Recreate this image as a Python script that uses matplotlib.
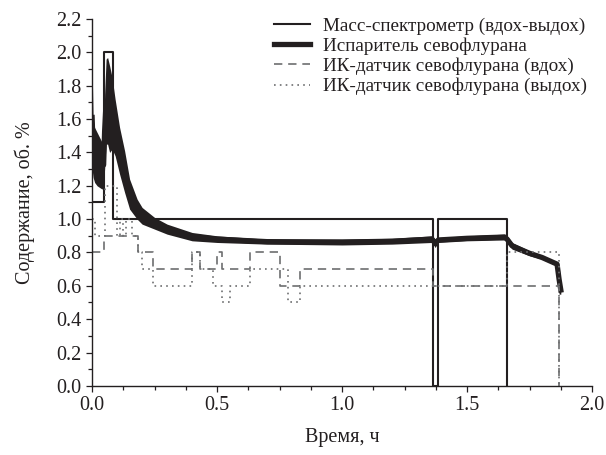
import matplotlib
matplotlib.use("Agg")
import matplotlib.pyplot as plt
from matplotlib.ticker import MultipleLocator, FormatStrFormatter

plt.rcParams['font.family'] = ['Liberation Serif', 'DejaVu Serif']

# Масс-спектрометр (ступенчатая)
ms_x = [0.0, 0.048, 0.085, 1.364, 1.384, 1.66]
ms_y = [1.1, 2.0, 1.0, 0.0, 1.0, 0.0]

# Испаритель: середина полосы и её границы
vap_x = [0.0, 0.004, 0.010, 0.020, 0.030, 0.040, 0.046, 0.050, 0.056, 0.062,
         0.070, 0.080, 0.092, 0.110, 0.130, 0.150, 0.180, 0.200, 0.250, 0.300,
         0.400, 0.500, 0.700, 1.000, 1.200, 1.360, 1.372, 1.385, 1.500, 1.650,
         1.660, 1.680, 1.750, 1.800, 1.860, 1.868, 1.875]
vap_lo = [1.30, 1.25, 1.22, 1.20, 1.19, 1.18, 1.20, 1.30, 1.45, 1.45,
          1.40, 1.42, 1.38, 1.27, 1.16, 1.06, 1.00, 0.97, 0.94, 0.91,
          0.87, 0.86, 0.85, 0.845, 0.85, 0.86, 0.83, 0.86, 0.87, 0.875,
          0.86, 0.82, 0.78, 0.76, 0.72, 0.55, 0.55]
vap_hi = [1.92, 1.60, 1.55, 1.52, 1.49, 1.46, 1.45, 1.75, 1.96, 1.97,
          1.92, 1.85, 1.72, 1.55, 1.41, 1.24, 1.12, 1.07, 1.01, 0.97,
          0.92, 0.90, 0.88, 0.88, 0.885, 0.90, 0.88, 0.89, 0.90, 0.91,
          0.90, 0.86, 0.81, 0.78, 0.74, 0.73, 0.60]
vap_mid = [(a + b) / 2 for a, b in zip(vap_lo, vap_hi)]

# ИК-датчик, вдох
ir_in_x = [0.0, 0.048, 0.185, 0.245, 0.40, 0.43, 0.50, 0.52, 0.63, 0.75, 0.83, 1.365, 1.868]
ir_in_y = [0.8, 0.9, 0.8, 0.7, 0.8, 0.7, 0.8, 0.7, 0.8, 0.6, 0.7, 0.6, 0.0]

# ИК-датчик, выдох
ir_out_x = [0.0, 0.012, 0.05, 0.10, 0.11, 0.125, 0.135, 0.16, 0.185, 0.20, 0.245,
            0.40, 0.43, 0.484, 0.52, 0.55, 0.63, 0.785, 0.83, 1.66, 1.868]
ir_out_y = [1.0, 0.9, 1.2, 0.9, 1.0, 0.9, 1.0, 0.9, 0.8, 0.7, 0.6,
            0.8, 0.7, 0.6, 0.5, 0.6, 0.7, 0.5, 0.6, 0.8, 0.0]

txt = '#231f20'
fs = 14.5
fig = plt.figure(figsize=(6.06, 4.55), dpi=100)
ax = fig.add_axes([0.152, 0.152, 0.825, 0.806])

ax.plot(ms_x, ms_y, drawstyle='steps-post', color=txt, lw=1.5,
        label='Масс-спектрометр (вдох-выдох)')
ax.fill_between(vap_x, vap_lo, vap_hi, color=txt, lw=0)
ax.plot(vap_x, vap_mid, color=txt, lw=3.8, label='Испаритель севофлурана')
ax.plot(ir_in_x, ir_in_y, drawstyle='steps-post', color='#6d6e70', lw=1.2,
        linestyle=(0, (5, 3.5)), label='ИК-датчик севофлурана (вдох)')
ax.plot(ir_out_x, ir_out_y, drawstyle='steps-post', color='#6d6e70', lw=1.2,
        linestyle=(0, (1, 2.5)), label='ИК-датчик севофлурана (выдох)')

ax.set_xlim(0, 2.0)
ax.set_ylim(0, 2.2)
ax.xaxis.set_major_locator(MultipleLocator(0.5))
ax.xaxis.set_minor_locator(MultipleLocator(0.125))
ax.yaxis.set_major_locator(MultipleLocator(0.2))
ax.yaxis.set_minor_locator(MultipleLocator(0.1))
ax.xaxis.set_major_formatter(FormatStrFormatter('%.1f'))
ax.yaxis.set_major_formatter(FormatStrFormatter('%.1f'))

for s in ['top', 'right']:
    ax.spines[s].set_visible(False)
for s in ['left', 'bottom']:
    ax.spines[s].set_linewidth(1.0)
    ax.spines[s].set_color(txt)
ax.tick_params(which='major', direction='out', length=4.5, width=0.9,
               labelsize=fs, colors=txt, pad=3)
ax.tick_params(which='minor', direction='out', length=3, width=0.9, colors=txt)

ax.set_xlabel('Время, ч', fontsize=fs, color=txt, labelpad=9)
ax.set_ylabel('Содержание, об. %', fontsize=fs, color=txt, labelpad=15)

leg = ax.legend(loc='upper left', bbox_to_anchor=(0.452, 0.962),
                bbox_transform=fig.transFigure, frameon=False, fontsize=13.8,
                handlelength=1.9, handletextpad=0.65, labelspacing=0.14,
                borderpad=0, borderaxespad=0, labelcolor=txt)

fig.savefig('out.png', dpi=100)
